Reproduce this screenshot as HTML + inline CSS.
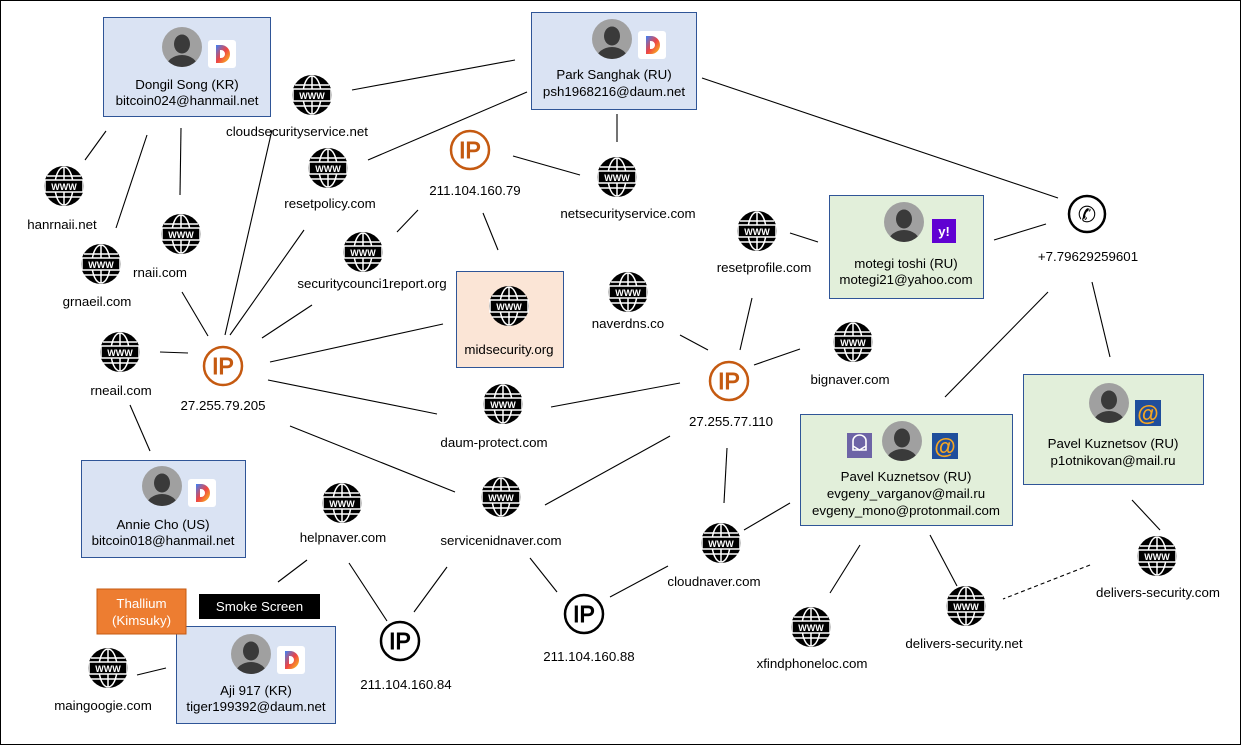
<!DOCTYPE html>
<html><head><meta charset="utf-8"><style>
body{margin:0;background:#fff}
svg{display:block}
text{font-family:"Liberation Sans",sans-serif;font-size:13.3px;fill:#000}
</style></head><body>
<svg width="1241" height="745" viewBox="0 0 1241 745" xmlns="http://www.w3.org/2000/svg">
<defs>
<g id="www">
<circle r="20" fill="#000"/>
<ellipse rx="9" ry="19" fill="none" stroke="#fff" stroke-width="1.5"/>
<line x1="0" y1="-19" x2="0" y2="19" stroke="#fff" stroke-width="1.5"/>
<line x1="-17" y1="-10" x2="17" y2="-10" stroke="#fff" stroke-width="1.5"/>
<line x1="-17" y1="11" x2="17" y2="11" stroke="#fff" stroke-width="1.5"/>
<rect x="-19" y="-6" width="38" height="12" fill="#000" stroke="#fff" stroke-width="1.5"/>
<text x="0" y="4" text-anchor="middle" style="font-size:9px;font-weight:bold;fill:#fff">WWW</text>
</g>
<g id="ipo">
<circle r="19" fill="#fff" stroke="#c55a11" stroke-width="2.5"/>
<text x="0" y="8" text-anchor="middle" style="font-size:23px;fill:#c55a11;stroke:#c55a11;stroke-width:1">IP</text>
</g>
<g id="ipb">
<circle r="19" fill="#fff" stroke="#000" stroke-width="2.5"/>
<text x="0" y="8" text-anchor="middle" style="font-size:23px;fill:#000;stroke:#000;stroke-width:1">IP</text>
</g>
<g id="av">
<clipPath id="avc"><circle r="20"/></clipPath>
<circle r="20" fill="#a0a0a0"/>
<g clip-path="url(#avc)">
<ellipse cx="0" cy="-3" rx="8" ry="9.5" fill="#3a3a3a"/>
<ellipse cx="0" cy="21" rx="16" ry="13" fill="#3a3a3a"/>
</g>
</g>
<linearGradient id="dg" x1="0" y1="0" x2="1" y2="1">
<stop offset="0" stop-color="#3b82f6"/><stop offset="0.5" stop-color="#ef4444"/><stop offset="1" stop-color="#facc15"/>
</linearGradient>
<g id="daum">
<rect x="-14" y="-14" width="28" height="28" rx="3" fill="#fff"/>
<path d="M-6,-9 h5 a9,9 0 0 1 0,18 h-5 z M-2,-4 v8 h1 a4,4 0 0 0 0,-8 z" fill="url(#dg)" fill-rule="evenodd"/>
</g>
<g id="mail">
<rect x="-13" y="-13" width="26" height="26" fill="#1f4e9c"/>
<text x="0" y="8" text-anchor="middle" style="font-size:22px;font-weight:bold;fill:#f5a623">@</text>
</g>
</defs>
<rect x="0.5" y="0.5" width="1240" height="744" fill="#fff" stroke="#000"/>

<g stroke="#000" stroke-width="1.1" fill="none">
<line x1="352" y1="90" x2="515" y2="60"/>
<line x1="368" y1="160" x2="527" y2="92"/>
<line x1="617" y1="114" x2="617" y2="142"/>
<line x1="702" y1="78" x2="1058" y2="198"/>
<line x1="513" y1="156" x2="580" y2="175"/>
<line x1="418" y1="210" x2="397" y2="232"/>
<line x1="483" y1="213" x2="498" y2="250"/>
<line x1="106" y1="131" x2="85" y2="160"/>
<line x1="147" y1="135" x2="116" y2="228"/>
<line x1="181" y1="128" x2="180" y2="195"/>
<line x1="272" y1="130" x2="225" y2="335"/>
<line x1="304" y1="230" x2="230" y2="335"/>
<line x1="312" y1="305" x2="262" y2="338"/>
<line x1="443" y1="324" x2="270" y2="362"/>
<line x1="160" y1="352" x2="188" y2="353"/>
<line x1="182" y1="292" x2="208" y2="336"/>
<line x1="268" y1="380" x2="437" y2="414"/>
<line x1="290" y1="426" x2="455" y2="492"/>
<line x1="130" y1="405" x2="150" y2="451"/>
<line x1="551" y1="407" x2="680" y2="383"/>
<line x1="545" y1="505" x2="670" y2="436"/>
<line x1="680" y1="335" x2="708" y2="350"/>
<line x1="752" y1="298" x2="740" y2="350"/>
<line x1="754" y1="365" x2="800" y2="349"/>
<line x1="727" y1="448" x2="724" y2="503"/>
<line x1="790" y1="233" x2="818" y2="242"/>
<line x1="994" y1="240" x2="1046" y2="224"/>
<line x1="1048" y1="292" x2="945" y2="397"/>
<line x1="1092" y1="282" x2="1110" y2="357"/>
<line x1="1132" y1="500" x2="1160" y2="530"/>
<line x1="1090" y1="565" x2="1003" y2="599" stroke-dasharray="4,3"/>
<line x1="930" y1="535" x2="957" y2="586"/>
<line x1="860" y1="545" x2="830" y2="593"/>
<line x1="790" y1="503" x2="744" y2="530"/>
<line x1="610" y1="597" x2="668" y2="566"/>
<line x1="530" y1="558" x2="557" y2="592"/>
<line x1="447" y1="567" x2="414" y2="612"/>
<line x1="349" y1="563" x2="387" y2="621"/>
<line x1="307" y1="560" x2="278" y2="582"/>
<line x1="137" y1="675" x2="166" y2="668"/>
</g>

<g stroke="#2f5597" stroke-width="1">
<rect x="103.5" y="17.5" width="167" height="99" fill="#dae3f3"/>
<rect x="531.5" y="12.5" width="165" height="97" fill="#dae3f3"/>
<rect x="81.5" y="460.5" width="164" height="97" fill="#dae3f3"/>
<rect x="176.5" y="626.5" width="159" height="97" fill="#dae3f3"/>
<rect x="829.5" y="195.5" width="154" height="103" fill="#e2efda"/>
<rect x="800.5" y="414.5" width="212" height="111" fill="#e2efda"/>
<rect x="1023.5" y="374.5" width="180" height="110" fill="#e2efda"/>
<rect x="456.5" y="271.5" width="107" height="96" fill="#fbe5d6"/>
</g>
<rect x="97" y="589" width="89" height="45" fill="#ed7d31" stroke="#c55a11"/>
<text x="141.5" y="608" text-anchor="middle" style="fill:#fff">Thallium</text>
<text x="141.5" y="625" text-anchor="middle" style="fill:#fff">(Kimsuky)</text>
<rect x="199" y="594" width="121" height="25" fill="#000"/>
<text x="259.5" y="611" text-anchor="middle" style="fill:#fff">Smoke Screen</text>

<use href="#av" x="182" y="47"/><use href="#daum" x="222" y="54"/>
<text x="187" y="89" text-anchor="middle">Dongil Song (KR)</text>
<text x="187" y="105" text-anchor="middle">bitcoin024@hanmail.net</text>

<use href="#av" x="612" y="39"/><use href="#daum" x="652" y="45"/>
<text x="614" y="79" text-anchor="middle">Park Sanghak (RU)</text>
<text x="614" y="96" text-anchor="middle">psh1968216@daum.net</text>

<use href="#av" x="162" y="486"/><use href="#daum" x="202" y="493"/>
<text x="163" y="529" text-anchor="middle">Annie Cho (US)</text>
<text x="163" y="545" text-anchor="middle">bitcoin018@hanmail.net</text>

<use href="#av" x="251" y="654"/><use href="#daum" x="291" y="660"/>
<text x="256" y="695" text-anchor="middle">Aji 917 (KR)</text>
<text x="256" y="711" text-anchor="middle">tiger199392@daum.net</text>

<use href="#av" x="904" y="222"/>
<rect x="932" y="219" width="24" height="24" fill="#6001d2"/>
<text x="944" y="236" text-anchor="middle" style="fill:#fff;font-weight:bold;font-size:13px">y!</text>
<text x="906" y="268" text-anchor="middle">motegi toshi (RU)</text>
<text x="906" y="284" text-anchor="middle">motegi21@yahoo.com</text>

<use href="#av" x="902" y="441"/>
<rect x="847" y="433" width="25" height="25" fill="#6d64a6"/>
<path d="M853,441 a6.5,6 0 0 1 13,0 v9 h-13 z" fill="none" stroke="#fff" stroke-width="1.6"/>
<path d="M853,446 l6.5,4 l6.5,-4" fill="none" stroke="#fff" stroke-width="1.4"/>
<use href="#mail" x="945" y="446"/>
<text x="906" y="481" text-anchor="middle">Pavel Kuznetsov (RU)</text>
<text x="906" y="498" text-anchor="middle">evgeny_varganov@mail.ru</text>
<text x="906" y="515" text-anchor="middle">evgeny_mono@protonmail.com</text>

<use href="#av" x="1109" y="403"/><use href="#mail" x="1148" y="413"/>
<text x="1113" y="448" text-anchor="middle">Pavel Kuznetsov (RU)</text>
<text x="1113" y="465" text-anchor="middle">p1otnikovan@mail.ru</text>

<use href="#www" x="312" y="95"/><text x="297" y="136" text-anchor="middle">cloudsecurityservice.net</text>
<use href="#www" x="328" y="168"/><text x="330" y="208" text-anchor="middle">resetpolicy.com</text>
<use href="#www" x="64" y="186"/><text x="62" y="229" text-anchor="middle">hanrnaii.net</text>
<use href="#www" x="181" y="234"/><text x="160" y="277" text-anchor="middle">rnaii.com</text>
<use href="#www" x="101" y="264"/><text x="97" y="306" text-anchor="middle">grnaeil.com</text>
<use href="#www" x="363" y="252"/><text x="372" y="288" text-anchor="middle">securitycounci1report.org</text>
<use href="#www" x="509" y="306"/><text x="509" y="354" text-anchor="middle">midsecurity.org</text>
<use href="#www" x="617" y="177"/><text x="628" y="218" text-anchor="middle">netsecurityservice.com</text>
<use href="#www" x="757" y="231"/><text x="764" y="272" text-anchor="middle">resetprofile.com</text>
<use href="#www" x="628" y="292"/><text x="628" y="328" text-anchor="middle">naverdns.co</text>
<use href="#www" x="853" y="342"/><text x="850" y="384" text-anchor="middle">bignaver.com</text>
<use href="#www" x="120" y="352"/><text x="121" y="395" text-anchor="middle">rneail.com</text>
<use href="#www" x="503" y="404"/><text x="494" y="447" text-anchor="middle">daum-protect.com</text>
<use href="#www" x="501" y="497"/><text x="501" y="545" text-anchor="middle">servicenidnaver.com</text>
<use href="#www" x="342" y="503"/><text x="343" y="542" text-anchor="middle">helpnaver.com</text>
<use href="#www" x="721" y="543"/><text x="714" y="586" text-anchor="middle">cloudnaver.com</text>
<use href="#www" x="811" y="627"/><text x="812" y="668" text-anchor="middle">xfindphoneloc.com</text>
<use href="#www" x="966" y="606"/><text x="964" y="648" text-anchor="middle">delivers-security.net</text>
<use href="#www" x="1157" y="556"/><text x="1158" y="597" text-anchor="middle">delivers-security.com</text>
<use href="#www" x="108" y="668"/><text x="103" y="710" text-anchor="middle">maingoogie.com</text>

<use href="#ipo" x="470" y="150"/><text x="475" y="195" text-anchor="middle">211.104.160.79</text>
<use href="#ipo" x="223" y="366"/><text x="223" y="410" text-anchor="middle">27.255.79.205</text>
<use href="#ipo" x="729" y="381"/><text x="731" y="426" text-anchor="middle">27.255.77.110</text>
<use href="#ipb" x="400" y="641"/><text x="406" y="689" text-anchor="middle">211.104.160.84</text>
<use href="#ipb" x="584" y="614"/><text x="589" y="661" text-anchor="middle">211.104.160.88</text>

<circle cx="1087" cy="214" r="18" fill="#fff" stroke="#000" stroke-width="2.5"/>
<text x="1087" y="222" text-anchor="middle" style="font-size:22px">✆</text>
<text x="1088" y="261" text-anchor="middle">+7.79629259601</text>
</svg>
</body></html>
